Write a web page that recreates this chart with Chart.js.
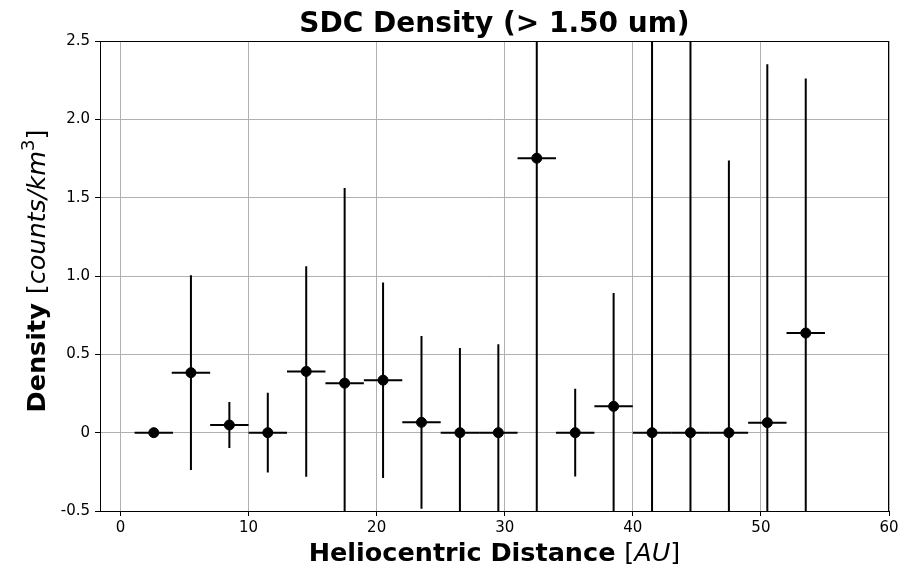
<!DOCTYPE html>
<html>
<head>
<meta charset="utf-8">
<title>SDC Density</title>
<script src="https://cdn.jsdelivr.net/npm/chart.js@4.4.1/dist/chart.umd.min.js"></script>
<style>
  html, body { margin: 0; padding: 0; background: #fff; }
  #wrap { width: 921px; height: 568px; }
</style>
</head>
<body>
<div id="wrap"><canvas id="sdcDensityChart" width="921" height="568"></canvas></div>
<script>
// --- data ---
const distance    = [2.6, 5.5, 8.5, 11.5, 14.5, 17.5, 20.5, 23.5, 26.5, 29.5, 32.5, 35.5, 38.5, 41.5, 44.5, 47.5, 50.5, 53.5];
const distanceErr = [1.5, 1.5, 1.5, 1.5, 1.5, 1.5, 1.5, 1.5, 1.5, 1.5, 1.5, 1.5, 1.5, 1.5, 1.5, 1.5, 1.5, 1.5];
const density     = [0, 0.383, 0.049, 0, 0.391, 0.316, 0.335, 0.066, 0, 0, 1.752, 0, 0.168, 0, 0, 0, 0.064, 0.636];
const densityErr  = [0, 0.622, 0.147, 0.254, 0.672, 1.245, 0.624, 0.551, 0.54, 0.565, 2.6, 0.28, 0.724, 3.0, 3.0, 1.737, 2.287, 1.625];

const xTickValues = [0, 10, 20, 30, 40, 50, 60];
const yTickValues = [-0.5, 0, 0.5, 1.0, 1.5, 2.0, 2.5];
const yTickLabels = ['-0.5', '0', '0.5', '1.0', '1.5', '2.0', '2.5'];

const FONT = "'DejaVu Sans', 'Liberation Sans', sans-serif";
Chart.defaults.font.family = FONT;
Chart.defaults.color = '#000';

// draw a run of text pieces (own font, optional raise) centred on (0,0)
function drawPieces(ctx, pieces) {
    let total = 0;
    pieces.forEach(p => { ctx.font = p.font; p.w = ctx.measureText(p.text).width; total += p.w; });
    let x = -total / 2;
    pieces.forEach(p => {
        ctx.font = p.font;
        ctx.fillText(p.text, x, p.dy || 0);
        x += p.w;
    });
}

const errorBars = {
    id: 'errorBars',
    beforeDatasetsDraw(chart) {
        const { ctx, chartArea: a, scales: { x, y } } = chart;
        ctx.save();
        ctx.beginPath();
        ctx.rect(a.left, a.top, a.right - a.left, a.bottom - a.top);
        ctx.clip();
        ctx.strokeStyle = '#000';
        ctx.lineWidth = 2;
        ctx.lineCap = 'butt';
        distance.forEach((d, i) => {
            const px = x.getPixelForValue(d), py = y.getPixelForValue(density[i]);
            ctx.beginPath();
            ctx.moveTo(x.getPixelForValue(d - distanceErr[i]), py);
            ctx.lineTo(x.getPixelForValue(d + distanceErr[i]), py);
            if (densityErr[i] > 0) {
                ctx.moveTo(px, y.getPixelForValue(density[i] - densityErr[i]));
                ctx.lineTo(px, y.getPixelForValue(density[i] + densityErr[i]));
            }
            ctx.stroke();
        });
        ctx.restore();
    }
};

const frameAndLabels = {
    id: 'frameAndLabels',
    afterDraw(chart) {
        const { ctx, chartArea: a } = chart;
        const cx = (a.left + a.right) / 2, cy = (a.top + a.bottom) / 2;
        ctx.save();
        ctx.strokeStyle = '#000';
        ctx.lineWidth = 1;
        ctx.strokeRect(a.left + 0.5, a.top + 0.5, a.right - a.left - 1, a.bottom - a.top);

        ctx.fillStyle = '#000';
        ctx.textBaseline = 'alphabetic';
        ctx.textAlign = 'left';

        // title
        ctx.save();
        ctx.translate(cx, 32);
        drawPieces(ctx, [{ text: 'SDC Density (> 1.50 um)', font: `bold 28px ${FONT}` }]);
        ctx.restore();

        // x axis label
        ctx.save();
        ctx.translate(cx, 561);
        drawPieces(ctx, [
            { text: 'Heliocentric Distance ', font: `bold 25.5px ${FONT}` },
            { text: '[', font: `25.5px ${FONT}` },
            { text: 'AU', font: `italic 25.5px ${FONT}` },
            { text: ']', font: `25.5px ${FONT}` }
        ]);
        ctx.restore();

        // y axis label
        ctx.save();
        ctx.translate(45, cy - 5);
        ctx.rotate(-Math.PI / 2);
        drawPieces(ctx, [
            { text: 'Density ', font: `bold 25.5px ${FONT}` },
            { text: '[', font: `25.5px ${FONT}` },
            { text: 'counts/km', font: `italic 25.5px ${FONT}` },
            { text: '3', font: `18px ${FONT}`, dy: -11 },
            { text: ']', font: `25.5px ${FONT}` }
        ]);
        ctx.restore();
        ctx.restore();
    }
};

new Chart(document.getElementById('sdcDensityChart'), {
    type: 'scatter',
    data: {
        datasets: [{
            label: 'Density',
            data: distance.map((d, i) => ({ x: d, y: density[i] })),
            backgroundColor: '#000',
            borderColor: '#000',
            pointRadius: 5,
            pointHoverRadius: 5,
            showLine: false
        }]
    },
    options: {
        responsive: false,
        animation: false,
        devicePixelRatio: 1,
        layout: { padding: { top: 41, right: 32, left: 0, bottom: 0 } },
        plugins: { legend: { display: false }, title: { display: false }, tooltip: { enabled: false } },
        scales: {
            x: {
                type: 'linear',
                min: -1.6, max: 60,
                afterBuildTicks: scale => { scale.ticks = xTickValues.map(value => ({ value })); },
                afterFit: scale => { scale.height = 57; },
                grid: { color: '#b0b0b0', lineWidth: 1, tickColor: '#000', tickLength: 5 },
                border: { display: false },
                ticks: { font: { size: 15 }, color: '#000', padding: 3, maxRotation: 0 }
            },
            y: {
                type: 'linear',
                min: -0.5, max: 2.5,
                afterBuildTicks: scale => { scale.ticks = yTickValues.map(value => ({ value })); },
                afterFit: scale => { scale.width = 100; },
                grid: { color: '#b0b0b0', lineWidth: 1, tickColor: '#000', tickLength: 5 },
                border: { display: false },
                ticks: {
                    font: { size: 15 }, color: '#000', padding: 5,
                    callback: v => yTickLabels[yTickValues.indexOf(v)]
                }
            }
        }
    },
    plugins: [errorBars, frameAndLabels]
});
</script>
</body>
</html>
